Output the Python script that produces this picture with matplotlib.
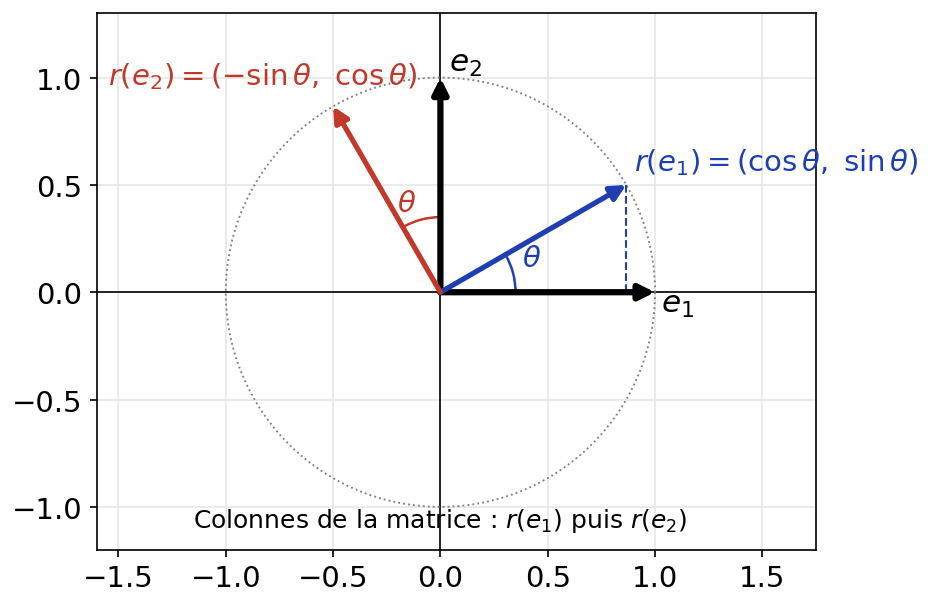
import numpy as np
import matplotlib
matplotlib.use("Agg")
import matplotlib.pyplot as plt
from matplotlib.patches import Arc

theta_deg = 30
th = np.deg2rad(theta_deg)
e1 = [1.0, 0.0]
e2 = [0.0, 1.0]
re1 = [np.cos(th), np.sin(th)]
re2 = [-np.sin(th), np.cos(th)]
xticks = [-1.5, -1.0, -0.5, 0.0, 0.5, 1.0, 1.5]
yticks = [-1.0, -0.5, 0.0, 0.5, 1.0]

blue = "#1f3fb0"
red = "#c0392b"

fig = plt.figure(figsize=(9.35/1.5, 6.09/1.5), dpi=150)
ax = fig.add_axes([97/935, 1-551/609, 719/935, 537/609])
ax.set_xlim(-1.6, 1.75)
ax.set_ylim(-1.2, 1.3)
ax.set_aspect("equal")
ax.grid(True, color="#e6e6e6", lw=0.8)
ax.set_axisbelow(True)
ax.axhline(0, color="black", lw=0.8)
ax.axvline(0, color="black", lw=0.8)
t = np.linspace(0, 2*np.pi, 400)
ax.plot(np.cos(t), np.sin(t), ls=":", color="gray", lw=0.9)

def arrow(v, c, lw):
    ax.annotate("", xy=v, xytext=(0, 0),
                arrowprops=dict(arrowstyle="-|>,head_length=0.6,head_width=0.3",
                                color=c, lw=lw, shrinkA=0, shrinkB=0))

arrow(e1, "black", 3)
arrow(e2, "black", 3)
arrow(re1, blue, 2.5)
arrow(re2, red, 2.5)
ax.plot([re1[0], re1[0]], [0, re1[1]], ls="--", color=blue, lw=1)
ax.add_patch(Arc((0, 0), 0.7, 0.7, theta1=0, theta2=theta_deg, color=blue, lw=1.2))
ax.add_patch(Arc((0, 0), 0.7, 0.7, theta1=90, theta2=90+theta_deg, color=red, lw=1.2))
ax.text(0.38, 0.12, r"$\theta$", color=blue, fontsize=14)
ax.text(-0.2, 0.38, r"$\theta$", color=red, fontsize=14)
ax.text(1.03, -0.09, r"$e_1$", fontsize=15)
ax.text(0.04, 1.03, r"$e_2$", fontsize=15)
ax.text(0.9, 0.57, r"$r(e_1) = (\cos\theta,\ \sin\theta)$", color=blue, fontsize=14)
ax.text(-1.55, 0.97, r"$r(e_2) = (-\sin\theta,\ \cos\theta)$", color=red, fontsize=14)
ax.text(0.0, -1.06, r"Colonnes de la matrice : $r(e_1)$ puis $r(e_2)$",
        ha="center", va="center", fontsize=12)
ax.set_xticks(xticks)
ax.set_yticks(yticks)
ax.tick_params(labelsize=14)
fig.savefig("out.png", dpi=150)
